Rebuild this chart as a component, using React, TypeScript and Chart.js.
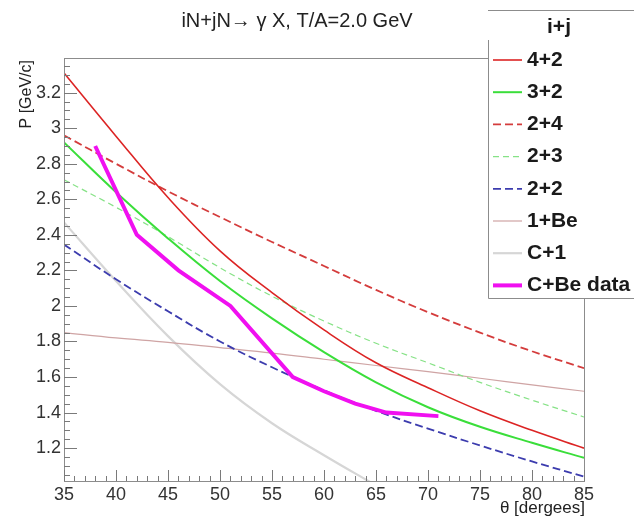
import React, { useEffect, useRef } from "react";
import { Chart, registerables } from "chart.js";

Chart.register(...registerables);

// ---------------- data ----------------
const THETA = [35, 40, 45, 50, 55, 60, 65, 70, 75, 80, 85];
const P_4_2 = [3.31, 2.955, 2.61, 2.31, 2.075, 1.865, 1.68, 1.54, 1.41, 1.3, 1.2];
const P_3_2 = [2.92, 2.64, 2.38, 2.14, 1.93, 1.74, 1.57, 1.43, 1.32, 1.23, 1.145];
const P_2_4 = [2.96, 2.8, 2.645, 2.5, 2.36, 2.225, 2.09, 1.965, 1.85, 1.745, 1.65];
const P_2_3 = [2.71, 2.555, 2.39, 2.215, 2.055, 1.915, 1.79, 1.68, 1.57, 1.47, 1.375];
const P_2_2 = [2.345, 2.15, 1.97, 1.8, 1.655, 1.525, 1.41, 1.31, 1.215, 1.125, 1.04];
const P_1_BE = [1.85, 1.82, 1.795, 1.765, 1.735, 1.7, 1.665, 1.63, 1.593, 1.556, 1.52];
const THETA_C1 = [35, 40, 45, 50, 55, 60, 65];
const P_C_1 = [2.47, 2.14, 1.83, 1.56, 1.34, 1.16, 0.99];
const DATA_THETA = [38, 42, 46, 51, 57, 60, 63, 66, 71];
const DATA_P = [2.9, 2.4, 2.2, 2.0, 1.6, 1.52, 1.45, 1.4, 1.38];

const X_MIN = 35;
const X_MAX = 85;
const Y_MIN = 1.015;
const Y_MAX = 3.395;

const TITLE = "iN+jN\u2192 \u03b3 X, T/A=2.0 GeV";
const X_TITLE = "\u03b8 [dergees]";
const Y_TITLE = "P [GeV/c]";
const LEGEND_HEADER = "i+j";

const FONT = "'Liberation Sans', Arial, Helvetica, sans-serif";

type Series = {
  label: string;
  xs: number[];
  ys: number[];
  color: string;
  width: number;
  dash: number[];
  smooth: boolean;
};

const SERIES: Series[] = [
  { label: "4+2", xs: THETA, ys: P_4_2, color: "#dc2424", width: 1.6, dash: [], smooth: true },
  { label: "3+2", xs: THETA, ys: P_3_2, color: "#3ade3a", width: 2, dash: [], smooth: true },
  { label: "2+4", xs: THETA, ys: P_2_4, color: "#d43c3c", width: 1.8, dash: [8, 4], smooth: true },
  { label: "2+3", xs: THETA, ys: P_2_3, color: "#86e286", width: 1.2, dash: [6, 4], smooth: true },
  { label: "2+2", xs: THETA, ys: P_2_2, color: "#3c3cae", width: 1.8, dash: [8, 4], smooth: true },
  { label: "1+Be", xs: THETA, ys: P_1_BE, color: "#cfa4a4", width: 1.2, dash: [], smooth: true },
  { label: "C+1", xs: THETA_C1, ys: P_C_1, color: "#d6d6d6", width: 2.2, dash: [], smooth: true },
  { label: "C+Be data", xs: DATA_THETA, ys: DATA_P, color: "#f010f0", width: 4, dash: [], smooth: false },
];

// ---------------- decoration plugin (ROOT-like frame, ticks, titles, legend) ----------------
const rootPlugin = {
  id: "rootPlugin",
  afterDraw(chart: any) {
    const { ctx, chartArea: a, scales } = chart;
    const xs = scales.x;
    const ys = scales.y;
    ctx.save();

    // frame
    ctx.strokeStyle = "#8c8c8c";
    ctx.lineWidth = 1;
    ctx.strokeRect(Math.round(a.left) + 0.5, Math.round(a.top) + 0.5, Math.round(a.right - a.left), Math.round(a.bottom - a.top));

    // ticks (inside)
    ctx.strokeStyle = "#7a7a7a";
    ctx.beginPath();
    for (let t = X_MIN; t <= X_MAX; t += 1) {
      const px = Math.round(xs.getPixelForValue(t)) + 0.5;
      const len = t % 5 === 0 ? 11 : 5;
      ctx.moveTo(px, a.bottom);
      ctx.lineTo(px, a.bottom - len);
    }
    const k0 = Math.ceil(Y_MIN / 0.05 - 1e-9);
    const k1 = Math.floor(Y_MAX / 0.05 + 1e-9);
    for (let k = k0; k <= k1; k++) {
      const py = Math.round(ys.getPixelForValue(k * 0.05)) + 0.5;
      const len = k % 4 === 0 ? 13 : 6;
      ctx.moveTo(a.left, py);
      ctx.lineTo(a.left + len, py);
    }
    ctx.stroke();

    // title
    ctx.fillStyle = "#222";
    ctx.font = `20px ${FONT}`;
    ctx.textAlign = "center";
    ctx.textBaseline = "middle";
    ctx.fillText(TITLE, 297, 21);

    // x title
    ctx.font = `17px ${FONT}`;
    ctx.textAlign = "right";
    ctx.fillText(X_TITLE, a.right + 1, 508);

    // y title
    ctx.save();
    ctx.translate(27, a.top + 2);
    ctx.rotate(-Math.PI / 2);
    ctx.font = `16px ${FONT}`;
    ctx.textAlign = "right";
    ctx.textBaseline = "middle";
    ctx.fillText(Y_TITLE, 0, 0);
    ctx.restore();

    // legend box
    const lx = 488;
    const ltop = 10;
    const lbot = 298;
    ctx.fillStyle = "#ffffff";
    ctx.fillRect(lx, ltop, 634 - lx, lbot - ltop);
    ctx.strokeStyle = "#8c8c8c";
    ctx.lineWidth = 1;
    ctx.beginPath();
    ctx.moveTo(lx, ltop + 0.5);
    ctx.lineTo(634, ltop + 0.5);
    ctx.moveTo(lx + 0.5, 40);
    ctx.lineTo(lx + 0.5, lbot + 0.5);
    ctx.lineTo(634, lbot + 0.5);
    ctx.stroke();

    ctx.fillStyle = "#1a1a1a";
    ctx.font = `bold 21px ${FONT}`;
    ctx.textAlign = "center";
    ctx.textBaseline = "middle";
    ctx.fillText(LEGEND_HEADER, 559, 27);

    ctx.textAlign = "left";
    SERIES.forEach((s, i) => {
      const y = 60 + i * 32.2;
      ctx.strokeStyle = s.color;
      ctx.lineWidth = s.width;
      ctx.setLineDash(s.dash);
      ctx.beginPath();
      ctx.moveTo(493, y);
      ctx.lineTo(522, y);
      ctx.stroke();
      ctx.setLineDash([]);
      ctx.fillStyle = "#1a1a1a";
      ctx.fillText(s.label, 527, y);
    });

    ctx.restore();
  },
};

export default function App() {
  const ref = useRef<HTMLCanvasElement | null>(null);

  useEffect(() => {
    if (!ref.current) return;
    Chart.defaults.font.family = FONT;

    const datasets = SERIES.map((s, i) => ({
      label: s.label,
      data: s.xs.map((x, j) => ({ x, y: s.ys[j] })),
      borderColor: s.color,
      backgroundColor: s.color,
      borderWidth: s.width,
      borderDash: s.dash,
      pointRadius: 0,
      fill: false,
      tension: s.smooth ? 0.4 : 0,
      order: s.smooth ? i + 1 : 0,
    }));

    const chart = new Chart(ref.current, {
      type: "line",
      data: { datasets },
      options: {
        animation: false,
        responsive: false,
        devicePixelRatio: 1,
        layout: { padding: { top: 58, right: 50, bottom: 0, left: 0 } },
        plugins: { legend: { display: false }, tooltip: { enabled: false }, title: { display: false } },
        scales: {
          x: {
            type: "linear",
            min: X_MIN,
            max: X_MAX,
            border: { display: false },
            grid: { display: false, drawTicks: false },
            ticks: {
              stepSize: 5,
              maxRotation: 0,
              autoSkip: false,
              padding: 3,
              color: "#333",
              font: { size: 18, family: FONT },
              callback: (v: any) => String(v),
            },
            afterFit: (s: any) => {
              s.height = 39;
              s.paddingLeft = 0;
              s.paddingRight = 0;
            },
          },
          y: {
            type: "linear",
            min: Y_MIN,
            max: Y_MAX,
            border: { display: false },
            grid: { display: false, drawTicks: false },
            ticks: {
              stepSize: 0.2,
              includeBounds: false,
              padding: 3,
              color: "#333",
              font: { size: 18, family: FONT },
              callback: (v: any) => String(Math.round(Number(v) * 10) / 10),
            },
            afterFit: (s: any) => {
              s.width = 64;
              s.paddingTop = 0;
              s.paddingBottom = 0;
            },
          },
        },
      },
      plugins: [rootPlugin],
    });
    return () => chart.destroy();
  }, []);

  return (
    <canvas
      ref={ref}
      width={634}
      height={520}
      style={{ position: "absolute", left: 0, top: 0, width: 634, height: 520, background: "#fff" }}
    />
  );
}
